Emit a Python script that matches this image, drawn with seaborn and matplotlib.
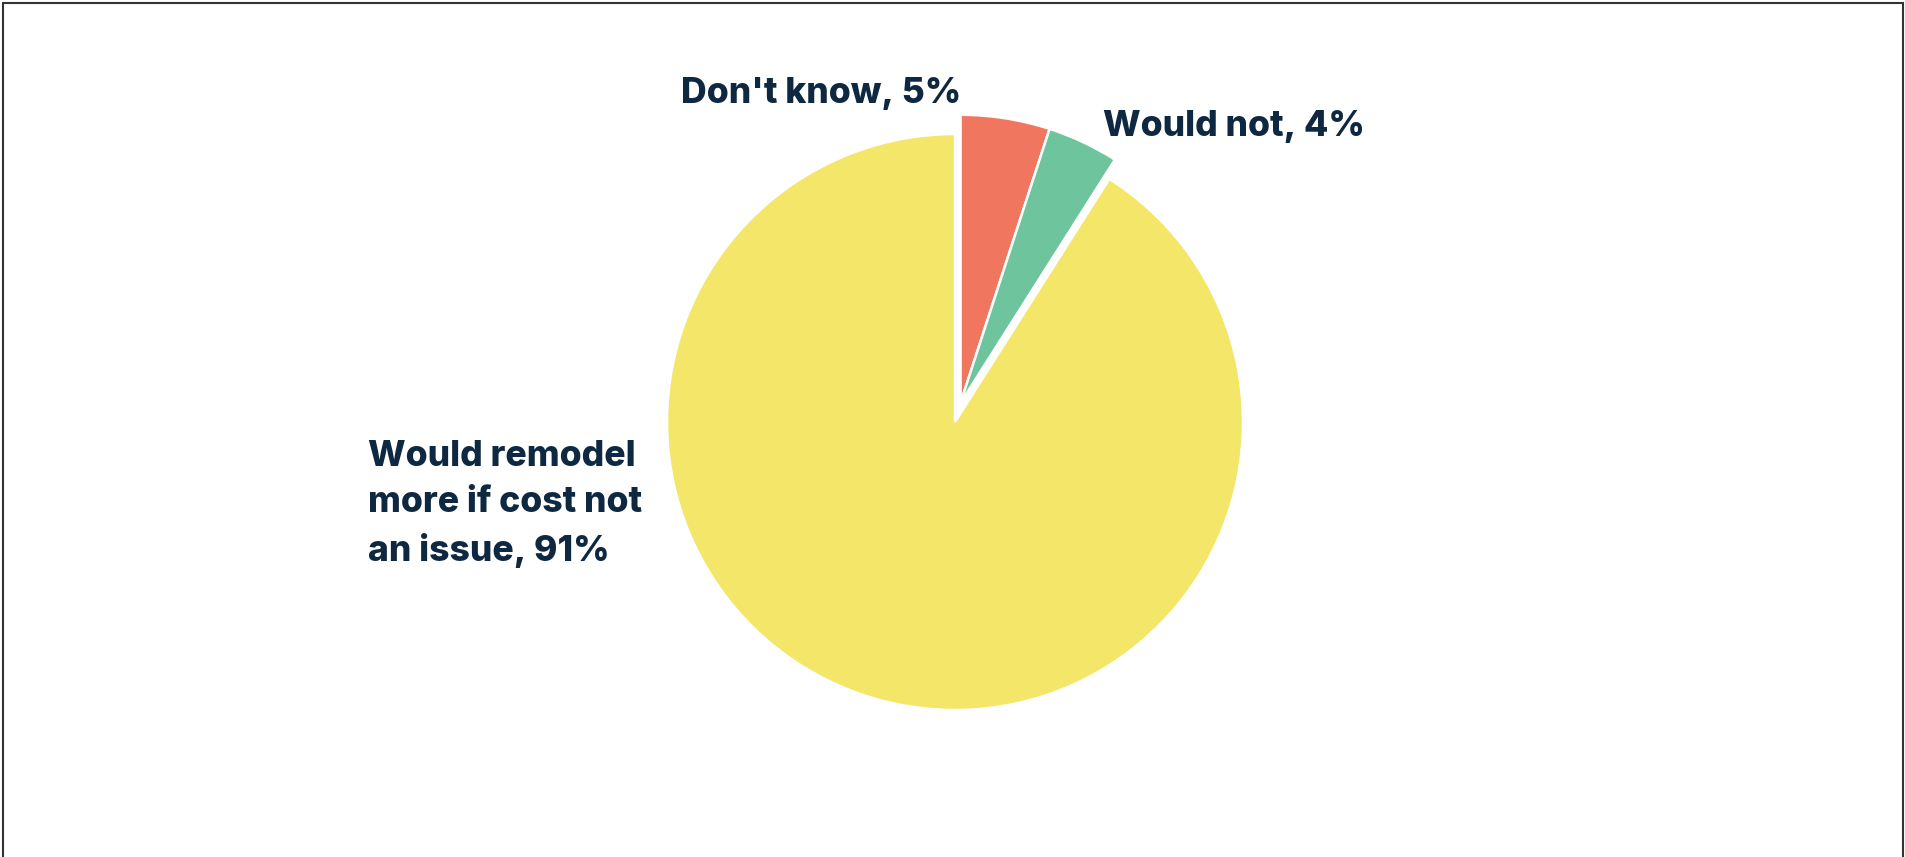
import matplotlib
matplotlib.use("Agg")
import matplotlib.pyplot as plt
from matplotlib.patches import Rectangle
import numpy as np
import seaborn as sns

# Survey responses
categories = ["Don't know", "Would not", "Would remodel\nmore if cost not\nan issue"]
shares = [5, 4, 91]
colors = ["#F07660", "#6DC49D", "#F3E668"]

sns.set_theme(style="white")
plt.rcParams["font.family"] = ["Inter", "DejaVu Sans"]

W, H = 1905, 857
RADIUS = 288
CENTER = (955, H - 422)
PULL = 20  # how far the small-slice group is pulled out, in pixels

fig = plt.figure(figsize=(W / 100, H / 100), dpi=100)
ax = fig.add_axes([0, 0, 1, 1])

wedges, _ = ax.pie(shares, colors=colors, startangle=90, counterclock=False,
                   center=CENTER, radius=RADIUS,
                   wedgeprops=dict(edgecolor="white", linewidth=1.8), frame=True)

# Pull the two minority slices out together, along their shared mid-angle
group = shares[0] + shares[1]
mid = np.deg2rad(90 - 360 * group / sum(shares) / 2)
dx, dy = PULL * np.cos(mid), PULL * np.sin(mid)
for w in wedges[:2]:
    w.set_center((CENTER[0] + dx, CENTER[1] + dy))

ax.set_xlim(0, W)
ax.set_ylim(0, H)
ax.set_aspect("equal")
ax.axis("off")

text_color = "#0E2841"
label_style = dict(color=text_color, fontsize=25.6, fontweight=800, linespacing=1.5)
label_pos = [(681, H - 93), (1103, H - 126), (368, H - 504)]
for (x, y), name, v in zip(label_pos, categories, shares):
    ax.text(x, y, f"{name}, {v}%", ha="left", va="center", **label_style)

# Frame around the chart area
fig.patches.append(Rectangle((3 / W, -0.05), (W - 5) / W, 1.05 - 2.5 / H,
                             transform=fig.transFigure, fill=False,
                             edgecolor="#333333", linewidth=1.5))

fig.savefig("out.png", dpi=100, facecolor="white")
